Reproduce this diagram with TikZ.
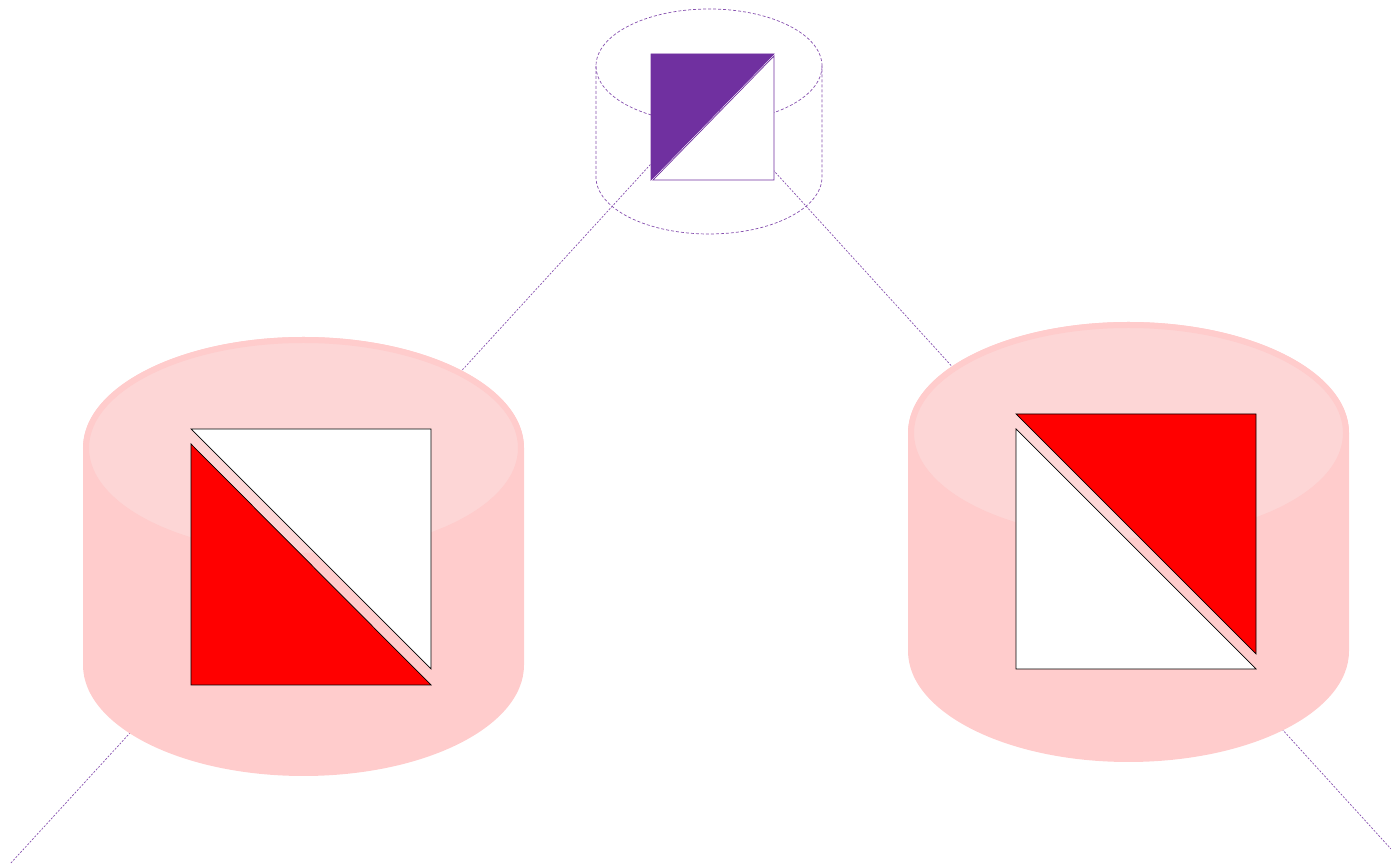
\documentclass[tikz,border=0pt]{standalone}
\definecolor{cylbody}{RGB}{255,204,204}
\definecolor{cyltop}{RGB}{253,214,214}
\definecolor{lnpurple}{RGB}{112,48,160}
\definecolor{sqred}{RGB}{255,0,0}
\tikzset{
  x=1pt, y=1pt,
  link/.style={draw=lnpurple!85, line width=0.7pt, dash pattern=on 2pt off 1.5pt},
  topcyl/.style={draw=lnpurple!85, line width=0.7pt, dash pattern=on 3pt off 2pt},
  tri/.style={draw=black, line width=0.7pt},
  ptri/.style={draw=lnpurple, line width=0.7pt},
}
\begin{document}
\begin{tikzpicture}
\useasboundingbox (0,0) rectangle (1391,864);
% connectors
\coordinate (src) at (709.5,764);
\coordinate (endL) at (10,0);
\coordinate (endR) at (1391,15);
\begin{scope}
\clip (0,0) rectangle (1391,864);
\draw[link] (src) -- (endL);
\draw[link] (src) -- (endR);
\end{scope}
% top cylinder (outline only)
\draw[topcyl] (709,798) ellipse [x radius=113pt, y radius=57pt];
\draw[topcyl] (596,798) -- (596,687) arc[start angle=180, end angle=360, x radius=113pt, y radius=57pt] -- (822,798);
% top square
\filldraw[ptri, fill=lnpurple] (651,810) -- (774,810) -- (651,684) -- cycle;
\filldraw[ptri, fill=white] (774,808) -- (774,684) -- (653,684) -- cycle;
% left cylinder
\fill[cylbody] (83,416) -- (83,199) arc[start angle=180, end angle=360, x radius=220.5pt, y radius=111pt] -- (524,416) arc[start angle=0, end angle=180, x radius=220.5pt, y radius=111pt] -- cycle;
\filldraw[draw=cylbody, fill=cyltop, line width=6pt] (303.5,416) ellipse [x radius=217.5pt, y radius=108pt];
% right cylinder
\fill[cylbody] (908,431) -- (908,213) arc[start angle=180, end angle=360, x radius=220.5pt, y radius=111pt] -- (1349,431) arc[start angle=0, end angle=180, x radius=220.5pt, y radius=111pt] -- cycle;
\filldraw[draw=cylbody, fill=cyltop, line width=6pt] (1128.5,431) ellipse [x radius=217.5pt, y radius=108pt];
% left square
\filldraw[tri, fill=white] (191,435) -- (431,435) -- (431,195) -- cycle;
\filldraw[tri, fill=sqred] (191,420) -- (191,179) -- (431,179) -- cycle;
% right square
\filldraw[tri, fill=sqred] (1016,450) -- (1256,450) -- (1256,210) -- cycle;
\filldraw[tri, fill=white] (1016,435) -- (1016,195) -- (1256,195) -- cycle;
\end{tikzpicture}
\end{document}
